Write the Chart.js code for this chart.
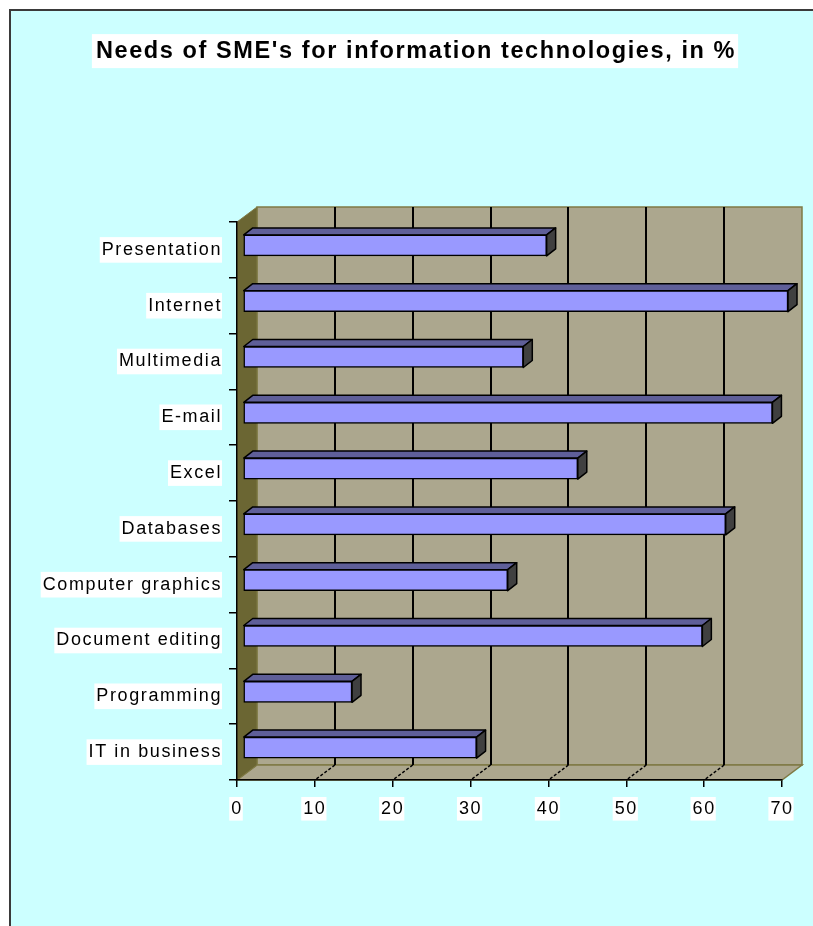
<!DOCTYPE html>
<html>
<head>
<meta charset="utf-8">
<script src="https://cdn.jsdelivr.net/npm/chart.js@4.4.0/dist/chart.umd.min.js"></script>
<style>
  html, body { margin: 0; padding: 0; background: #ffffff; }
  #wrap { width: 813px; height: 926px; }
</style>
</head>
<body>
<div id="wrap"><canvas id="needsChart" width="813" height="926"></canvas></div>
<script>
//Chart data
const categories = [
  "Presentation",
  "Internet",
  "Multimedia",
  "E-mail",
  "Excel",
  "Databases",
  "Computer graphics",
  "Document editing",
  "Programming",
  "IT in business",
];
const needs = [39, 70, 36, 68, 43, 62, 34, 59, 14, 30];
const axisTicks = [0, 10, 20, 30, 40, 50, 60, 70];
const chartTitle = "Needs of SME's for information technologies, in %";

//Colours and fonts
const pageColor = "#ccffff";
const wallColor = "#aca78e";
const sideWallColor = "#6b6633";
const wallEdgeColor = "#7f7a45";
const barFront = "#9999ff";
const barTop = "#5f5f99";
const barSide = "#404040";
const fontFamily = "'Liberation Sans', Arial, sans-serif";
const titleSize = 23.5;
const tickSize = 18;
const spacing = "1.6px";

//Fake 3D offsets (Excel style)
const wallDepth = { x: 20, y: 15 };
const barShift = { x: 6, y: 4.5 };
const barDepth = { x: 9, y: 7 };

//Draw a closed polygon
function poly(ctx, pts, fill, stroke, width) {
  ctx.beginPath();
  ctx.moveTo(pts[0][0], pts[0][1]);
  for (let i = 1; i < pts.length; i++) ctx.lineTo(pts[i][0], pts[i][1]);
  ctx.closePath();
  ctx.fillStyle = fill;
  ctx.fill();
  if (stroke) {
    ctx.strokeStyle = stroke;
    ctx.lineWidth = width;
    ctx.stroke();
  }
}

//Plugin for the page frame, the walls and the bar depth
const excel3d = {
  id: "excel3d",
  beforeLayout(chart) {
    chart.ctx.letterSpacing = spacing;
  },
  afterLayout(chart) {
    //title is centred over the plot, not over the whole canvas
    chart.titleBlock.left += 50;
    chart.titleBlock.width -= 50;
  },
  beforeDraw(chart) {
    const ctx = chart.ctx;
    const area = chart.chartArea;
    const xScale = chart.scales.x;
    const dx = wallDepth.x;
    const dy = wallDepth.y;

    ctx.save();
    //page and frame
    ctx.fillStyle = "#ffffff";
    ctx.fillRect(0, 0, chart.width, chart.height);
    ctx.fillStyle = pageColor;
    ctx.fillRect(10, 10, chart.width - 10, chart.height - 10);
    ctx.strokeStyle = "#3a3a3a";
    ctx.lineWidth = 2;
    ctx.beginPath();
    ctx.moveTo(10, chart.height);
    ctx.lineTo(10, 10);
    ctx.lineTo(chart.width, 10);
    ctx.stroke();

    //white box behind the title
    const tb = chart.titleBlock;
    ctx.letterSpacing = spacing;
    ctx.font = "bold " + titleSize + "px " + fontFamily;
    const tw = ctx.measureText(chartTitle).width;
    const cx = tb.left + tb.width / 2;
    const cy = tb.top + 37 + (titleSize * 1.2) / 2;
    ctx.fillStyle = "#ffffff";
    ctx.fillRect(cx - tw / 2 - 4, cy - 17, tw + 6, 34);

    //back wall
    ctx.fillStyle = wallColor;
    ctx.fillRect(area.left + dx, area.top - dy, area.width, area.height);
    ctx.strokeStyle = wallEdgeColor;
    ctx.lineWidth = 1.5;
    ctx.strokeRect(area.left + dx, area.top - dy, area.width, area.height);

    //floor
    poly(ctx, [
      [area.left, area.bottom],
      [area.right, area.bottom],
      [area.right + dx, area.bottom - dy],
      [area.left + dx, area.bottom - dy],
    ], wallColor, wallEdgeColor, 1.5);

    //side wall
    poly(ctx, [
      [area.left, area.top],
      [area.left + dx, area.top - dy],
      [area.left + dx, area.bottom - dy],
      [area.left, area.bottom],
    ], sideWallColor, wallEdgeColor, 1);

    //grid lines on the back wall
    ctx.strokeStyle = "#000000";
    ctx.lineWidth = 2;
    axisTicks.slice(1, -1).forEach((v) => {
      const px = Math.round(xScale.getPixelForValue(v) + dx);
      ctx.beginPath();
      ctx.moveTo(px, area.top - dy);
      ctx.lineTo(px, area.bottom - dy);
      ctx.stroke();
    });

    //dashed lines on the floor
    ctx.setLineDash([3, 2]);
    ctx.lineWidth = 1.5;
    axisTicks.slice(1, -1).forEach((v) => {
      const px = xScale.getPixelForValue(v);
      ctx.beginPath();
      ctx.moveTo(px + dx, area.bottom - dy);
      ctx.lineTo(px, area.bottom);
      ctx.stroke();
    });
    ctx.restore();
    ctx.letterSpacing = spacing;
  },
  beforeDatasetsDraw(chart) {
    const ctx = chart.ctx;
    ctx.save();
    ctx.translate(barShift.x, -barShift.y);
    ctx.lineJoin = "round";
    chart.getDatasetMeta(0).data.forEach((bar) => {
      const { x, y, base, height } = bar.getProps(["x", "y", "base", "height"], true);
      const top = y - height / 2;
      const bottom = y + height / 2;
      //top face
      poly(ctx, [
        [base, top],
        [base + barDepth.x, top - barDepth.y],
        [x + barDepth.x, top - barDepth.y],
        [x, top],
      ], barTop, "#000000", 1.5);
      //end face
      poly(ctx, [
        [x, top],
        [x + barDepth.x, top - barDepth.y],
        [x + barDepth.x, bottom - barDepth.y],
        [x, bottom],
      ], barSide, "#000000", 1.5);
    });
  },
  afterDatasetsDraw(chart) {
    chart.ctx.restore();
  },
};

//Create the chart
const needsChart = new Chart(document.getElementById("needsChart"), {
  type: "bar",
  data: {
    labels: categories,
    datasets: [
      {
        label: "Needs, %",
        data: needs,
        backgroundColor: barFront,
        borderColor: "#000000",
        borderWidth: 1.5,
        borderSkipped: false,
        barThickness: 21,
        clip: false,
      },
    ],
  },
  options: {
    indexAxis: "y",
    responsive: false,
    animation: false,
    devicePixelRatio: 1,
    layout: { padding: { left: 0, right: 31, top: 0, bottom: 0 } },
    scales: {
      x: {
        min: axisTicks[0],
        max: axisTicks[axisTicks.length - 1],
        afterFit: (scale) => {
          scale.height = 146;
        },
        grid: {
          drawOnChartArea: false,
          drawTicks: true,
          tickLength: 7,
          color: "#000000",
          lineWidth: 1.5,
        },
        border: { color: "#000000", width: 1.5 },
        ticks: {
          stepSize: 10,
          color: "#000000",
          font: { family: fontFamily, size: tickSize },
          padding: 11,
          maxRotation: 0,
          showLabelBackdrop: true,
          backdropColor: "#ffffff",
          backdropPadding: { top: 1, bottom: 1, left: 2, right: 0 },
        },
      },
      y: {
        afterFit: (scale) => {
          scale.width = 237;
        },
        grid: {
          drawOnChartArea: false,
          drawTicks: true,
          tickLength: 8,
          color: "#000000",
          lineWidth: 1.5,
        },
        border: { color: "#000000", width: 1.5 },
        ticks: {
          autoSkip: false,
          color: "#000000",
          font: { family: fontFamily, size: tickSize },
          padding: 7,
          showLabelBackdrop: true,
          backdropColor: "#ffffff",
          backdropPadding: { top: 2, bottom: 2, left: 2, right: 0 },
        },
      },
    },
    plugins: {
      legend: { display: false },
      tooltip: { enabled: false },
      title: {
        display: true,
        text: chartTitle,
        color: "#000000",
        font: { family: fontFamily, size: titleSize, weight: "bold" },
        padding: { top: 37, bottom: 158 - (titleSize * 1.2 - 27) },
      },
    },
  },
  plugins: [excel3d],
});
</script>
</body>
</html>
